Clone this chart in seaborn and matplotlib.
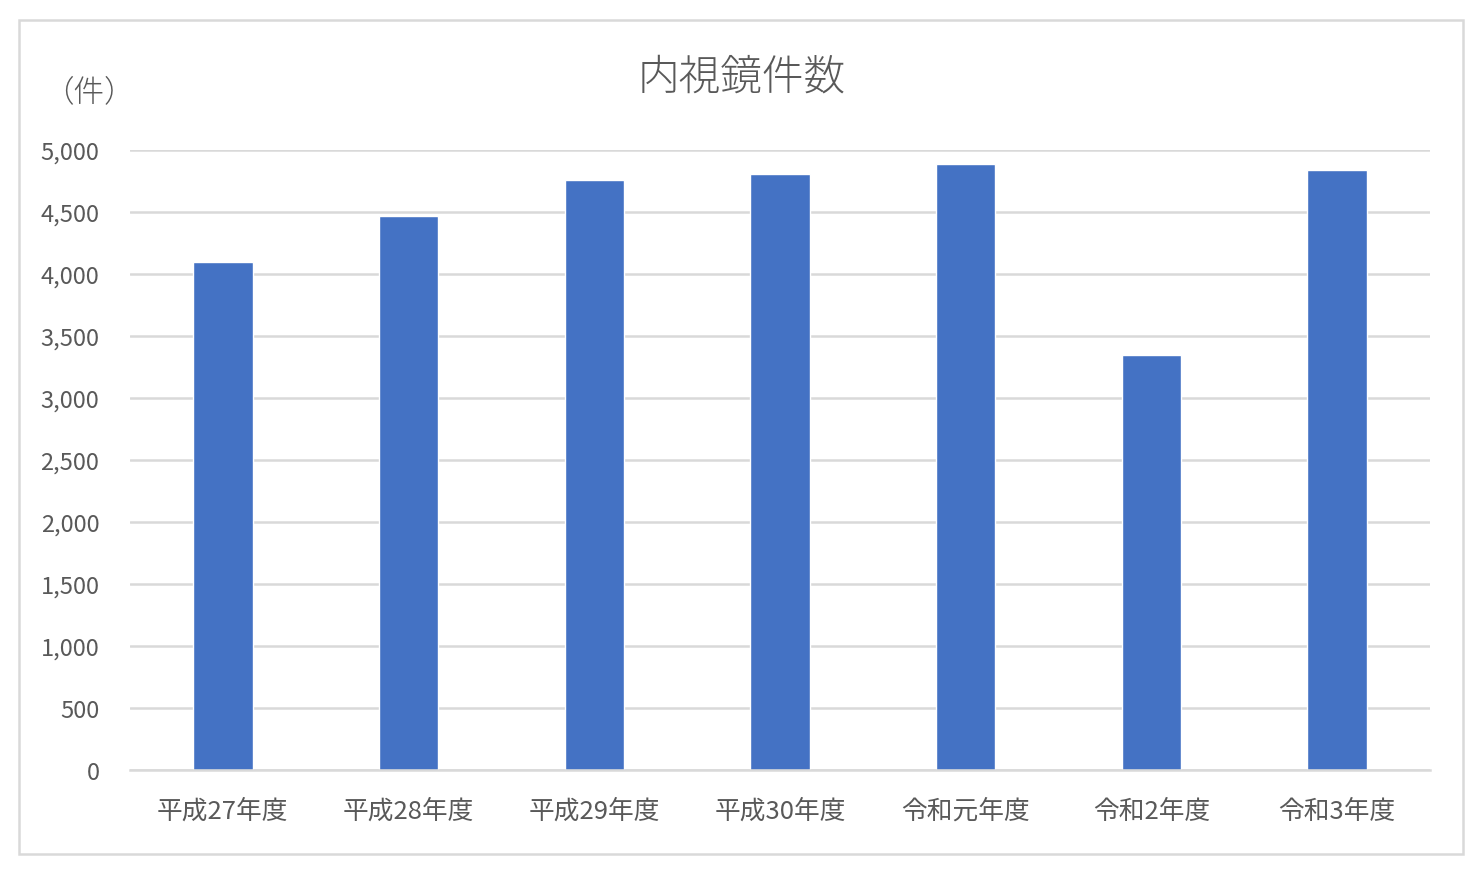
import matplotlib
matplotlib.use("Agg")
import matplotlib.pyplot as plt
import matplotlib.patches as mpatches
import pandas as pd
import seaborn as sns

years = ["平成27年度", "平成28年度", "平成29年度", "平成30年度", "令和元年度", "令和2年度", "令和3年度"]
counts = [4100, 4470, 4760, 4808, 4890, 3347, 4840]
y_ticks = [0, 500, 1000, 1500, 2000, 2500, 3000, 3500, 4000, 4500, 5000]

df = pd.DataFrame({"year": years, "count": counts})

sns.set_theme(style="white")
plt.rcParams["font.family"] = ["Noto Sans CJK JP", "DejaVu Sans"]

W, H = 1483, 878
fig = plt.figure(figsize=(W / 100, H / 100), dpi=100)
ax = fig.add_axes([130 / W, 1 - 771 / H, 1300 / W, 620 / H])

sns.barplot(data=df, x="year", y="count", color="#4472c4", width=0.32,
            saturation=1, ax=ax)

ax.set_ylim(0, 5000)
ax.set_xlim(-0.5, len(years) - 0.5)
ax.set_yticks(y_ticks)
ax.set_yticklabels([f"{v:,}" for v in y_ticks])
ax.yaxis.grid(True, color="#d9d9d9", linewidth=1.8)
ax.set_axisbelow(True)
for s in ["top", "right", "left"]:
    ax.spines[s].set_visible(False)
ax.spines["bottom"].set_color("#d9d9d9")
ax.spines["bottom"].set_linewidth(1.8)
ax.tick_params(axis="both", length=0, colors="#595959")
ax.tick_params(axis="y", pad=22, labelsize=17)
ax.tick_params(axis="x", pad=20, labelsize=18.5)
ax.set_xlabel("")
ax.set_ylabel("")

fig.text(742 / W, 1 - 78 / H, "内視鏡件数", ha="center", va="center",
         fontsize=30, color="#595959", fontweight="light")
fig.text(89 / W, 1 - 92 / H, "（件）", ha="center", va="center",
         fontsize=22, color="#595959", fontweight="light")

border = mpatches.Rectangle((19 / W, 1 - 855 / H), 1444 / W, 834 / H,
                            transform=fig.transFigure, fill=False,
                            edgecolor="#d9d9d9", linewidth=1.8)
fig.patches.append(border)

fig.savefig("out.png", dpi=100)
